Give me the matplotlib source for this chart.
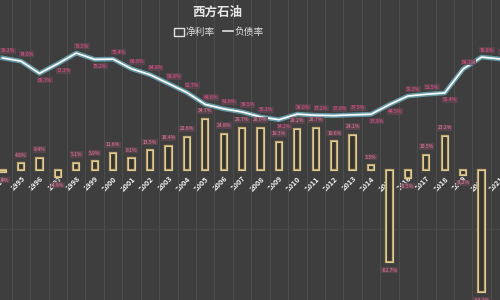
import matplotlib
matplotlib.use('Agg')
import matplotlib.pyplot as plt
from matplotlib.patches import Patch
from matplotlib.lines import Line2D

plt.rcParams['font.family'] = ['Noto Sans CJK SC', 'DejaVu Sans']

# ---- data ----
years = list(range(1994, 2022))
bar_years = years[:-1]
net_margin = [-1.4, 4.6, 8.4, -4.9, 5.1, 5.9, 11.6, 8.1, 13.5, 16.4, 22.6, 34.7,
              24.8, 28.7, 28.6, 19.3, 28.2, 28.7, 19.6, 24.1, 3.3, -62.7, -5.5,
              10.5, 23.2, -3.2, -83.1]
debt_ratio = [76.2, 74.0, 65.7, 72.3, 79.5, 75.2, 75.4, 68.8, 64.8, 58.8, 52.7,
              44.6, 41.6, 39.5, 36.1, 34.2, 38.0, 37.2, 37.0, 37.5, 37.9, 44.5,
              50.3, 51.5, 52.4, 68.7, 76.8, 75.5]
title = '西方石油'
legend_labels = ['净利率', '负债率']

# label placement for the line labels (+1 above, -1 below)
line_label_side = [1, 1, -1, -1, 1, -1, 1, 1, 1, 1, 1, 1, 1, 1, 1, -1, 1, 1, 1, 1,
                   -1, -1, 1, 1, -1, 1, 1, 1]

BG = '#3e3e3e'
fig = plt.figure(figsize=(5, 3), dpi=100)
fig.patch.set_facecolor(BG)
ax = fig.add_axes([0, 0, 1, 1])
ax.set_facecolor(BG)
ax.set_xlim(1993.86, 2020.51)
ax.set_ylim(-88.4, 115.6)

# grid
ax.set_xticks([y + 0.5 for y in years[:-1]], minor=True)
ax.grid(which='minor', axis='x', color='#4d4d4d', lw=0.8, zorder=0)
ax.set_yticks([-40])
ax.grid(which='major', axis='y', color='#474747', lw=0.8, zorder=0)
ax.tick_params(axis='y', length=0, labelleft=False)

# bars
ax.bar(bar_years, net_margin, width=0.34, facecolor='#35342f', edgecolor='#c2a86c',
       linewidth=1.6, zorder=3)
ax.bar(bar_years, net_margin, width=0.34, fill=False, edgecolor='#f1e7c4',
       linewidth=0.4, zorder=3.1)

lbl_box = dict(boxstyle='square,pad=0.12', fc='#5e4652', ec='none', alpha=0.85)
for x, v in zip(bar_years, net_margin):
    off = 4 if v >= 0 else -4
    ax.annotate(f'{v:.1f}%', (x, v), xytext=(0, off), textcoords='offset points',
                ha='center', va='bottom' if v >= 0 else 'top', fontsize=3.6,
                color='#ee7a9a', bbox=lbl_box, zorder=5)

# line
ax.plot(years, debt_ratio, color='#7fd3ea', lw=3.4, alpha=0.6, zorder=4,
        solid_joinstyle='round')
ax.plot(years, debt_ratio, color='#ffffff', lw=1.2, zorder=4.1,
        solid_joinstyle='round')
for x, v, s in zip(years, debt_ratio, line_label_side):
    ax.annotate(f'{v:.1f}%', (x, v), xytext=(4, 5 * s), textcoords='offset points',
                ha='center', va='center', fontsize=3.6, color='#f0508a',
                bbox=lbl_box, zorder=6)

# x axis at zero
ax.spines['bottom'].set_position(('data', 0))
for sp in ax.spines.values():
    sp.set_color('none')
ax.set_xticks(years)
ax.set_xticklabels([str(y) for y in years])
ax.tick_params(axis='x', which='both', length=0, pad=3.5, labelsize=5.3,
               labelcolor='#f2f2f2')
for t in ax.get_xticklabels():
    t.set_rotation(45)
    t.set_ha('right')
    t.set_rotation_mode('anchor')
    t.set_fontweight('bold')

# title and legend
fig.text(0.435, 0.958, title, fontsize=9, fontweight='bold', color='#e6e6e6',
         ha='center', va='center')
handles = [Patch(facecolor='none', edgecolor='#e0e0e0', lw=1.0),
           Line2D([], [], color='#e0e0e0', lw=1.2)]
ax.legend(handles, legend_labels, loc='center', bbox_to_anchor=(0.438, 0.893),
          ncol=2, frameon=False, fontsize=7, labelcolor='#dcdcdc',
          handlelength=1.0, handleheight=0.9, handletextpad=0.2, columnspacing=0.8)

fig.savefig('out.png', dpi=100, facecolor=BG)
